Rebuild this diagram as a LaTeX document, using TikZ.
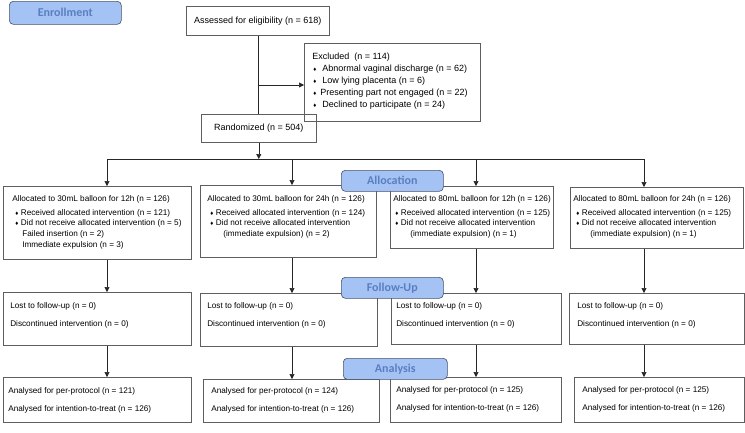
\documentclass[tikz,border=0pt]{standalone}
\usepackage{fontspec}
\setmainfont{Liberation Sans}
\newfontfamily\tabfont{Carlito}
\usetikzlibrary{arrows.meta}
\definecolor{boxgray}{HTML}{5E5E5E}
\definecolor{tabfill}{HTML}{A4C2F4}
\definecolor{tabedge}{HTML}{46526B}
\definecolor{tabtext}{HTML}{5A7FC0}
\newcommand{\bul}[1][2.5pt]{{\fontsize{6}{6}\selectfont ♦}\hspace{#1}}
\newcommand{\boxtext}[5]{\parbox[c][#2][t]{#1}{\vspace*{\dimexpr#4-\ht\strutbox\relax}\leftskip=#3\relax\strut#5}}

\begin{document}
\begin{tikzpicture}[x=1pt,y=-1pt,>={Triangle[length=5pt,width=5pt]},
	flowbox/.style={draw=boxgray,line width=.6pt,anchor=north west,inner sep=0pt},
	txtbig/.style={font=\fontsize{9}{12}\selectfont},
	txtsmall/.style={font=\fontsize{8.2}{10.8}\selectfont},
	tabbox/.style={draw=tabedge,fill=tabfill,rounded corners=4pt,line width=.6pt,anchor=north west,inner sep=0pt,text=tabtext,font=\tabfont\bfseries\fontsize{12}{14}\selectfont},
	conn/.style={draw=black!85,line width=.6pt}]
	\useasboundingbox (0,0) rectangle (745,432);
	% enrollment
	\node[flowbox,txtbig,minimum width=143pt,minimum height=29pt] (assess) at (186,6) {Assessed for eligibility (n = 618)};
	\node[flowbox,txtbig] (excl) at (304,43) {\boxtext{176pt}{78pt}{8pt}{16pt}{Excluded~ (n = 114)\\
		\hspace*{1pt}\bul[6pt]Abnormal vaginal discharge (n = 62)\\
		\hspace*{1pt}\bul[6pt]Low lying placenta (n = 6)\\
		\hspace*{1pt}\bul[4pt]Presenting part not engaged (n = 22)\\
		\hspace*{1pt}\bul[6pt]Declined to participate (n = 24)}};
	\node[flowbox,txtbig,minimum width=115pt,minimum height=28pt] (rand) at (201,114) {Randomized (n = 504)};
	% allocation
	\node[flowbox,txtsmall] (a1) at (3,186) {\boxtext{188pt}{73pt}{9pt}{15pt}{Allocated to 30mL balloon for 12h (n = 126)\\[3pt]
		\hspace*{3pt}\bul Received allocated intervention (n = 121)\\
		\hspace*{3pt}\bul Did not receive allocated intervention (n = 5)\\
		\hspace*{10pt}Failed insertion (n = 2)\\
		\hspace*{10pt}Immediate expulsion (n = 3)}};
	\node[flowbox,txtsmall] (a2) at (200,185) {\boxtext{176pt}{72pt}{7pt}{16pt}{Allocated to 30mL balloon for 24h (n = 126)\\[3pt]
		\hspace*{3pt}\bul Received allocated intervention (n = 124)\\
		\hspace*{3pt}\bul Did not receive allocated intervention\\
		\hspace*{16pt}(immediate expulsion) (n = 2)}};
	\node[flowbox,txtsmall] (a3) at (390,186) {\boxtext{163pt}{62pt}{3pt}{15pt}{Allocated to 80mL balloon for 12h (n = 126)\\[3pt]
		\hspace*{2pt}\bul Received allocated intervention (n = 125)\\
		\hspace*{2pt}\bul Did not receive allocated intervention\\
		\hspace*{17pt}(immediate expulsion) (n = 1)}};
	\node[flowbox,txtsmall] (a4) at (570,187) {\boxtext{173pt}{61pt}{3pt}{14pt}{Allocated to 80mL balloon for 24h (n = 126)\\[3pt]
		\hspace*{3pt}\bul Received allocated intervention (n = 125)\\
		\hspace*{3pt}\bul Did not receive allocated intervention\\
		\hspace*{17pt}(immediate expulsion) (n = 1)}};
	% follow-up
	\node[flowbox,txtsmall] (f1) at (3,292) {\boxtext{188pt}{53pt}{7pt}{16pt}{Lost to follow-up (n = 0)\\[7.2pt]Discontinued intervention (n = 0)}};
	\node[flowbox,txtsmall] (f2) at (200,293) {\boxtext{177pt}{53pt}{7pt}{15pt}{Lost to follow-up (n = 0)\\[7.2pt]Discontinued intervention (n = 0)}};
	\node[flowbox,txtsmall] (f3) at (391,293) {\boxtext{170pt}{51pt}{5pt}{15pt}{Lost to follow-up (n = 0)\\[7.2pt]Discontinued intervention (n = 0)}};
	\node[flowbox,txtsmall] (f4) at (569,293) {\boxtext{175pt}{51pt}{8pt}{15pt}{Lost to follow-up (n = 0)\\[7.2pt]Discontinued intervention (n = 0)}};
	% analysis
	\node[flowbox,txtsmall] (n1) at (3,377) {\boxtext{188pt}{45pt}{5pt}{16pt}{Analysed for per-protocol (n = 121)\\[7.2pt]Analysed for intention-to-treat (n = 126)}};
	\node[flowbox,txtsmall] (n2) at (203,379) {\boxtext{176pt}{43pt}{8pt}{14pt}{Analysed for per-protocol (n = 124)\\[7.2pt]Analysed for intention-to-treat (n = 126)}};
	\node[flowbox,txtsmall] (n3) at (390,377) {\boxtext{171pt}{45pt}{6pt}{15pt}{Analysed for per-protocol (n = 125)\\[7.2pt]Analysed for intention-to-treat (n = 126)}};
	\node[flowbox,txtsmall] (n4) at (574,377) {\boxtext{170pt}{45pt}{8pt}{15pt}{Analysed for per-protocol (n = 125)\\[7.2pt]Analysed for intention-to-treat (n = 126)}};
	% connectors
	\coordinate (exbr) at (258,85);
	\coordinate (split) at (258,159);
	\coordinate (c1) at (107,159);
	\coordinate (c2) at (292,159);
	\coordinate (c3) at (476,159);
	\coordinate (c4) at (644,159);
	\draw[conn] (assess.south) -- (assess.south |- rand.north);
	\draw[conn,->] (exbr) -- (exbr -| excl.west);
	\draw[conn,->] (rand.south) -- (rand.south |- split);
	\draw[conn] (c1) -- (c4);
	\draw[conn,->] (c1) -- (c1 |- a1.north);
	\draw[conn,->] (c2) -- (c2 |- a2.north);
	\draw[conn,->] (c3) -- (c3 |- a3.north);
	\draw[conn,->] (c4) -- (c4 |- a4.north);
	\draw[conn,->] (c1 |- a1.south) -- (c1 |- f1.north);
	\draw[conn,->] (c2 |- a2.south) -- (c2 |- f2.north);
	\draw[conn,->] (c3 |- a3.south) -- (c3 |- f3.north);
	\draw[conn,->] (c4 |- a4.south) -- (c4 |- f4.north);
	\draw[conn,->] (c1 |- f1.south) -- (c1 |- n1.north);
	\draw[conn,->] (c2 |- f2.south) -- (c2 |- n2.north);
	\draw[conn,->] (c3 |- f3.south) -- (c3 |- n3.north);
	\draw[conn,->] (c4 |- f4.south) -- (c4 |- n4.north);
	% stage tabs
	\node[tabbox,minimum width=112pt,minimum height=23pt] (enroll) at (9,1) {Enrollment};
	\node[tabbox,minimum width=102pt,minimum height=21pt] (alloc) at (341,170) {Allocation};
	\node[tabbox,minimum width=102pt,minimum height=21pt] (follow) at (341,277) {Follow-Up};
	\node[tabbox,minimum width=104pt,minimum height=21pt] (analysis) at (343,358) {Analysis};
\end{tikzpicture}
\end{document}
